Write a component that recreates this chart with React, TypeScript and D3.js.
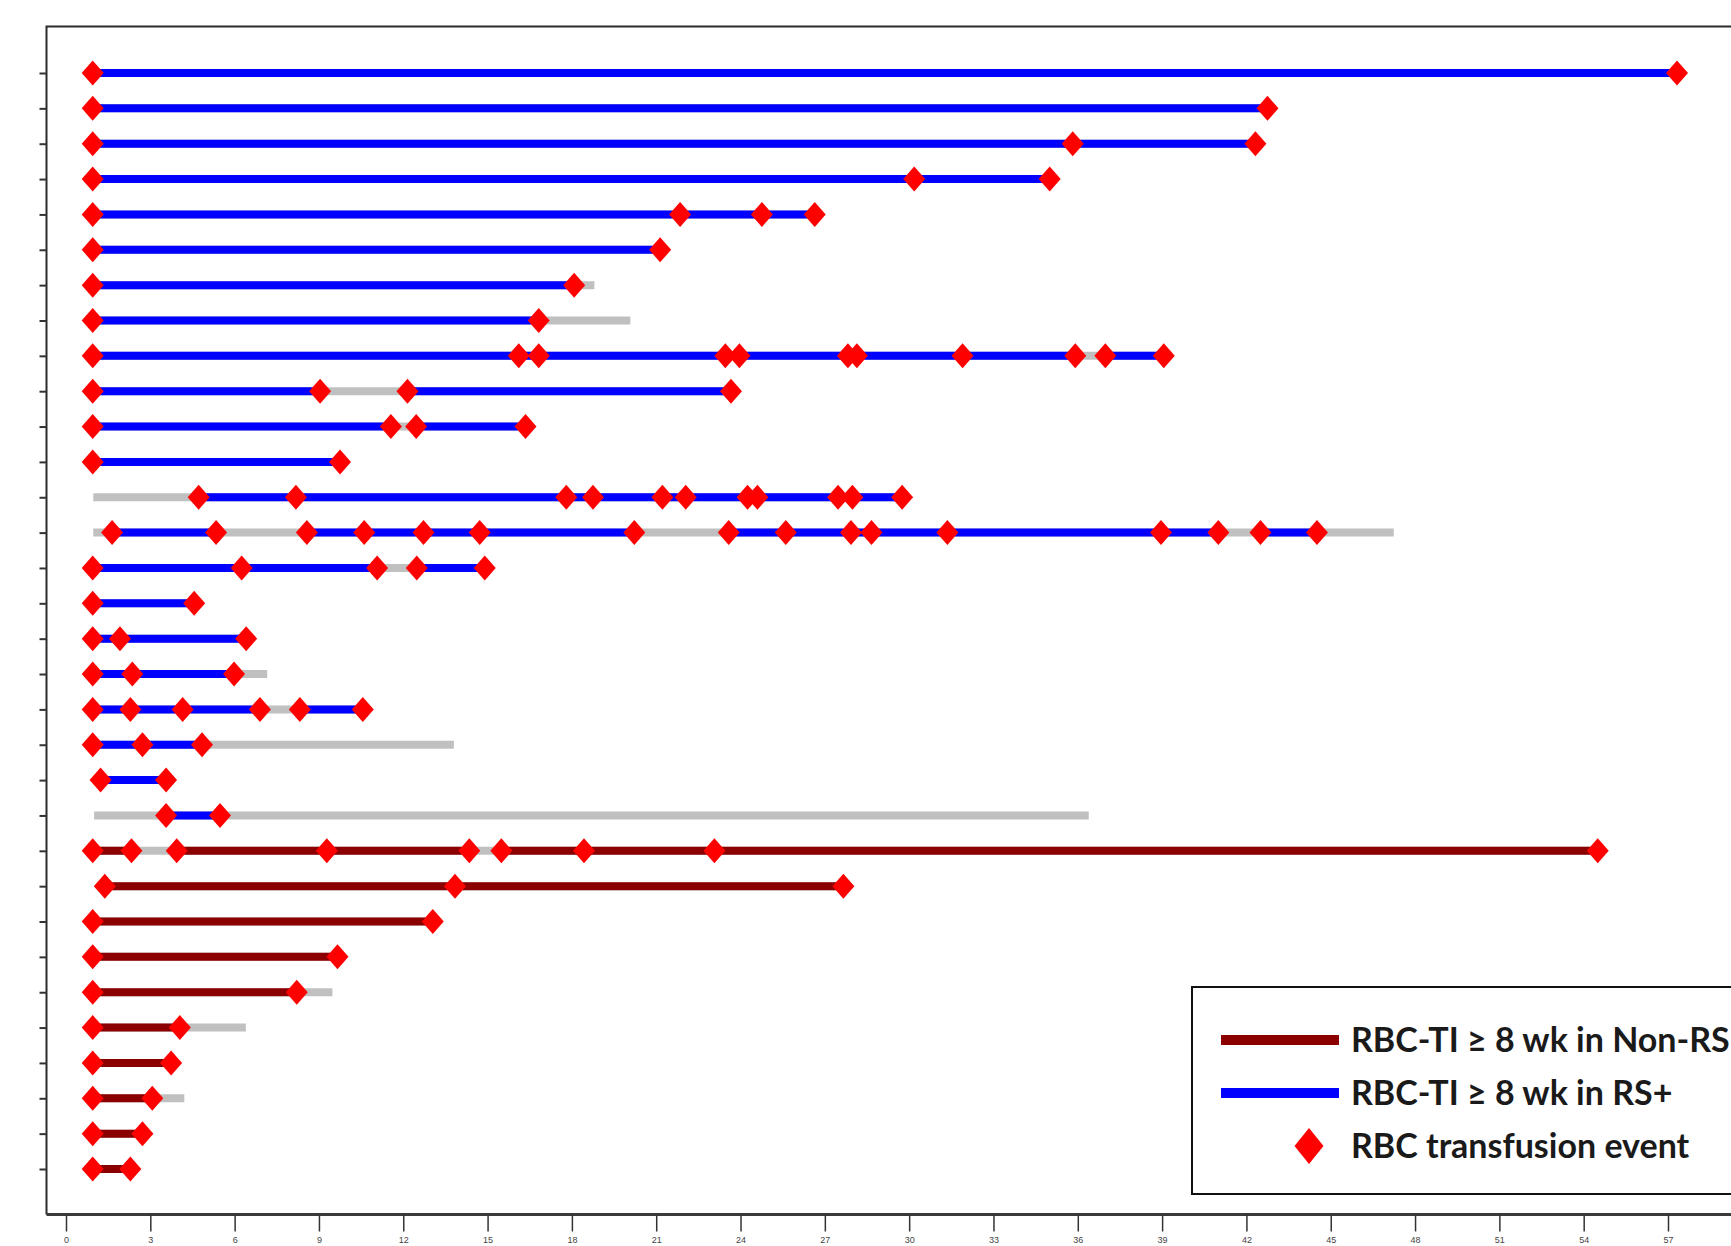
import * as d3 from "d3";
import React, { useEffect, useRef } from "react";

// Patients in display order (top to bottom). Values are weeks on study.
const groups = [
  "RS+", "RS+", "RS+", "RS+", "RS+", "RS+", "RS+", "RS+", "RS+", "RS+", "RS+",
  "RS+", "RS+", "RS+", "RS+", "RS+", "RS+", "RS+", "RS+", "RS+", "RS+", "RS+",
  "Non-RS", "Non-RS", "Non-RS", "Non-RS", "Non-RS", "Non-RS", "Non-RS", "Non-RS",
  "Non-RS", "Non-RS",
];

// Follow-up (grey line) start / end
const followUp = [
  [0.95, 57.32], [0.95, 42.75], [0.95, 42.32], [0.95, 35.0], [0.95, 26.64],
  [0.95, 21.14], [0.95, 18.8], [0.95, 20.08], [0.95, 39.06], [0.95, 23.66],
  [0.95, 16.35], [0.95, 9.75], [0.97, 29.75], [0.97, 47.24], [0.95, 14.9],
  [0.95, 4.56], [0.95, 6.41], [0.95, 7.16], [0.95, 10.56], [0.95, 13.8],
  [1.23, 3.56], [1.0, 36.39], [0.95, 54.5], [1.38, 27.66], [0.95, 13.05],
  [0.95, 9.66], [0.95, 9.48], [0.95, 6.4], [0.95, 3.74], [0.95, 4.21],
  [0.95, 2.72], [0.95, 2.29],
];

// RBC-TI >= 8 wk periods
const tiPeriods = [
  [[0.95, 57.32]],
  [[0.95, 42.75]],
  [[0.95, 42.32]],
  [[0.95, 35.0]],
  [[0.95, 26.64]],
  [[0.95, 21.14]],
  [[0.95, 18.08]],
  [[0.95, 16.82]],
  [[0.95, 35.91], [36.98, 39.06]],
  [[0.95, 9.04], [12.15, 23.66]],
  [[0.95, 11.56], [12.46, 16.35]],
  [[0.95, 9.75]],
  [[4.72, 29.75]],
  [[1.64, 5.34], [8.57, 20.22], [23.58, 41.0], [42.5, 44.51]],
  [[0.95, 11.07], [12.48, 14.9]],
  [[0.95, 4.56]],
  [[0.95, 6.41]],
  [[0.95, 5.98]],
  [[0.95, 6.9], [8.32, 10.56]],
  [[0.95, 4.84]],
  [[1.23, 3.56]],
  [[3.56, 5.48]],
  [[0.95, 2.33], [3.94, 14.35], [15.49, 54.5]],
  [[1.38, 27.66]],
  [[0.95, 13.05]],
  [[0.95, 9.66]],
  [[0.95, 8.21]],
  [[0.95, 4.05]],
  [[0.95, 3.74]],
  [[0.95, 3.07]],
  [[0.95, 2.72]],
  [[0.95, 2.29]],
];

// RBC transfusion events
const transfusions = [
  [0.95, 57.32],
  [0.95, 42.75],
  [0.95, 35.82, 42.32],
  [0.95, 30.18, 35.0],
  [0.95, 21.85, 24.76, 26.64],
  [0.95, 21.14],
  [0.95, 18.08],
  [0.95, 16.82],
  [0.95, 16.11, 16.82, 23.46, 23.96, 27.82, 28.14, 31.9, 35.91, 36.98, 39.06],
  [0.95, 9.04, 12.15, 23.66],
  [0.95, 11.56, 12.46, 16.35],
  [0.95, 9.75],
  [4.72, 8.18, 17.8, 18.75, 21.22, 22.05, 24.25, 24.6, 27.47, 27.98, 29.75],
  [1.64, 5.34, 8.57, 10.61, 12.72, 14.72, 20.22, 23.58, 25.61, 27.93, 28.66, 31.36, 38.96, 41.0, 42.5, 44.51],
  [0.95, 6.25, 11.07, 12.48, 14.9],
  [0.95, 4.56],
  [0.95, 1.92, 6.41],
  [0.95, 2.36, 5.98],
  [0.95, 2.29, 4.15, 6.9, 8.32, 10.56],
  [0.95, 2.72, 4.84],
  [1.23, 3.56],
  [3.56, 5.48],
  [0.95, 2.33, 3.94, 9.28, 14.35, 15.49, 18.43, 23.07, 54.5],
  [1.38, 13.84, 27.66],
  [0.95, 13.05],
  [0.95, 9.66],
  [0.95, 8.21],
  [0.95, 4.05],
  [0.95, 3.74],
  [0.95, 3.07],
  [0.95, 2.72],
  [0.95, 2.29],
];

const xTicks = d3.range(0, 58, 3);

const legendItems = [
  { label: "RBC-TI \u2265 8 wk in Non-RS", type: "Non-RS" },
  { label: "RBC-TI \u2265 8 wk in RS+", type: "RS+" },
  { label: "RBC transfusion event", type: "event" },
];

const colors = { "RS+": "#0000ff", "Non-RS": "#8b0000", follow: "#c0c0c0", event: "#ff0000" };

// diamond a bit taller than wide
function diamond(hw, hh) {
  return `M0,${-hh}L${hw},0L0,${hh}L${-hw},0Z`;
}

export default function App() {
  const ref = useRef(null);
  const width = 1731;
  const height = 1246;

  useEffect(() => {
    const svg = d3.select(ref.current);
    svg.selectAll("*").remove();

    const frame = { left: 46.5, top: 26.5, bottom: 1214.5 };

    const x = d3.scaleLinear().domain([0, 57]).range([66, 1668]);
    const y = d3.scalePoint().domain(d3.range(groups.length)).range([73, 1169]);

    svg.append("rect").attr("width", width).attr("height", height).attr("fill", "#fff");

    // frame (left + top), right side runs off the picture
    svg
      .append("path")
      .attr("d", `M${frame.left},${frame.bottom}V${frame.top}H${width + 5}`)
      .attr("fill", "none")
      .attr("stroke", "#2b2b2b")
      .attr("stroke-width", 2);

    // y ticks, one per patient
    svg
      .append("g")
      .attr("transform", `translate(${frame.left},0)`)
      .call(d3.axisLeft(y).tickSize(7).tickSizeOuter(0).tickFormat(() => ""))
      .call((g) => g.select(".domain").remove())
      .call((g) => g.selectAll(".tick line").attr("stroke", "#333").attr("stroke-width", 2));

    // x axis at the bottom, small labels squeezed under the ticks
    svg
      .append("g")
      .attr("transform", `translate(0,${frame.bottom})`)
      .call(d3.axisBottom(x).tickValues(xTicks).tickSize(17).tickPadding(6).tickSizeOuter(0))
      .call((g) =>
        g.select(".domain").attr("d", `M${frame.left},0H${width + 5}`).attr("stroke", "#3a3a3a").attr("stroke-width", 3)
      )
      .call((g) => g.selectAll(".tick line").attr("stroke", "#333").attr("stroke-width", 1.5))
      .call((g) =>
        g
          .selectAll(".tick text")
          .attr("fill", "#444")
          .attr("dy", "0.6em")
          .style("font", "9px 'Liberation Sans', Arial, sans-serif")
      );

    const rows = svg
      .append("g")
      .selectAll("g")
      .data(d3.range(groups.length))
      .join("g")
      .attr("transform", (i) => `translate(0,${y(i)})`);

    // grey follow-up lines
    rows
      .append("line")
      .attr("x1", (i) => x(followUp[i][0]))
      .attr("x2", (i) => x(followUp[i][1]))
      .attr("stroke", colors.follow)
      .attr("stroke-width", 8);

    // transfusion independence periods
    rows
      .selectAll(".ti")
      .data((i) => tiPeriods[i].map((p) => ({ p, g: groups[i] })))
      .join("line")
      .attr("class", "ti")
      .attr("x1", (d) => x(d.p[0]))
      .attr("x2", (d) => x(d.p[1]))
      .attr("stroke", (d) => colors[d.g])
      .attr("stroke-width", 8);

    // transfusion events
    rows
      .selectAll(".ev")
      .data((i) => transfusions[i])
      .join("path")
      .attr("class", "ev")
      .attr("d", diamond(11, 12.5))
      .attr("transform", (d) => `translate(${x(d)},0)`)
      .attr("fill", colors.event);

    // legend
    const lg = svg.append("g");
    lg.append("rect")
      .attr("x", 1192)
      .attr("y", 987)
      .attr("width", 600)
      .attr("height", 207)
      .attr("fill", "#fff")
      .attr("stroke", "#111")
      .attr("stroke-width", 2);

    const ly = d3.scalePoint().domain(legendItems.map((d) => d.label)).range([1040, 1146]);

    legendItems.forEach((item) => {
      const yy = ly(item.label);
      if (item.type === "event") {
        lg.append("path").attr("d", diamond(14.5, 18)).attr("transform", `translate(1309,${yy})`).attr("fill", colors.event);
      } else {
        lg.append("line")
          .attr("x1", 1221)
          .attr("x2", 1339)
          .attr("y1", yy)
          .attr("y2", yy)
          .attr("stroke", colors[item.type])
          .attr("stroke-width", 10);
      }
      lg.append("text")
        .attr("x", 1351)
        .attr("y", yy)
        .attr("dy", "0.36em")
        .attr("fill", "#1a1a1a")
        .style("font", "bold 34px Lato, 'Open Sans', sans-serif")
        .text(item.label);
    });
  }, []);

  return (
    <svg
      ref={ref}
      width={width}
      height={height}
      style={{ position: "absolute", left: 0, top: 0, display: "block" }}
    ></svg>
  );
}
